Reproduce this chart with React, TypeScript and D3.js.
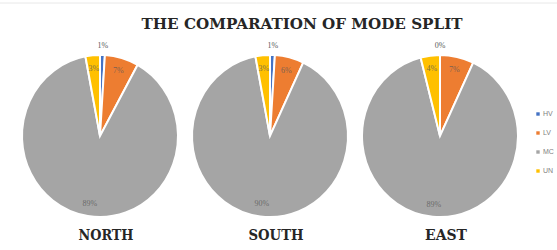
import React from "react";
import * as d3 from "d3";

const regions = ["NORTH", "SOUTH", "EAST"];
const modes = ["HV", "LV", "MC", "UN"];
const northShare = [1, 7, 89, 3];
const southShare = [1, 6, 90, 3];
const eastShare = [0, 7, 89, 4];
const shares = [northShare, southShare, eastShare];

const COLORS = ["#4472C4", "#ED7D31", "#A5A5A5", "#FFC000"];
const W = 557;
const H = 250;
const RX = 78;
const STRETCH = 1.04; // pies in the picture are a bit taller than wide

const App = () => {
  const xScale = d3.scalePoint<string>().domain(regions).range([100, 440]);
  const color = d3.scaleOrdinal<string, string>().domain(modes).range(COLORS);
  const pie = d3.pie<number>().sort(null).value(d => d);
  const arc = d3.arc<d3.PieArcDatum<number>>().innerRadius(0).outerRadius(RX);
  const cy = 136;

  const labelPos = (d: d3.PieArcDatum<number>, k: number) => {
    const a = (d.startAngle + d.endAngle) / 2;
    return [Math.sin(a) * RX * k, -Math.cos(a) * RX * STRETCH * k];
  };

  return (
    <svg
      width={W}
      height={H}
      style={{ position: "absolute", left: 0, top: 0, background: "#fff" }}
    >
      <line x1={0} x2={W} y1={3} y2={3} stroke="#e8e8e8" />
      <text
        x={302}
        y={29}
        textAnchor="middle"
        fontFamily="DejaVu Serif"
        fontWeight="bold"
        fontSize={15}
        textLength={321}
        lengthAdjust="spacingAndGlyphs"
        fill="#262626"
      >
        THE COMPARATION OF MODE SPLIT
      </text>

      {regions.map((r, ri) => {
        const cx = xScale(r)!;
        const arcs = pie(shares[ri]);
        const nameWidth = r === "EAST" ? 42 : 55;
        return (
          <g key={r}>
            <g transform={`translate(${cx},${cy}) scale(1,${STRETCH})`}>
              {arcs.map((d, i) => (
                <path
                  key={i}
                  d={arc(d) || ""}
                  fill={color(modes[i])}
                  stroke="#fff"
                  strokeWidth={2}
                />
              ))}
            </g>
            <g transform={`translate(${cx},${cy})`}>
              {arcs.map((d, i) => {
                const small = d.data < 2;
                const [lx, ly] = labelPos(d, small ? 1.12 : 0.84);
                return (
                  <text
                    key={i}
                    x={lx}
                    y={ly}
                    dy="0.35em"
                    textAnchor="middle"
                    fontFamily="Liberation Serif"
                    fontSize={8}
                    fill="#595959"
                    fillOpacity={small ? 1 : 0.8}
                  >
                    {d.data}%
                  </text>
                );
              })}
            </g>
            <text
              x={cx + 6}
              y={240}
              textAnchor="middle"
              fontFamily="DejaVu Serif"
              fontWeight="bold"
              fontSize={15}
              textLength={nameWidth}
              lengthAdjust="spacingAndGlyphs"
              fill="#262626"
            >
              {r}
            </text>
          </g>
        );
      })}

      <g fontFamily="Liberation Sans" fontSize={7} fill="#7f7f7f">
        {modes.map((m, i) => (
          <g key={m} transform={`translate(538,${114 + i * 19})`}>
            <rect x={-1.7} y={-1.7} width={3.4} height={3.4} fill={color(m)} />
            <text x={5} dy="0.35em">
              {m}
            </text>
          </g>
        ))}
      </g>
    </svg>
  );
};

export default App;
